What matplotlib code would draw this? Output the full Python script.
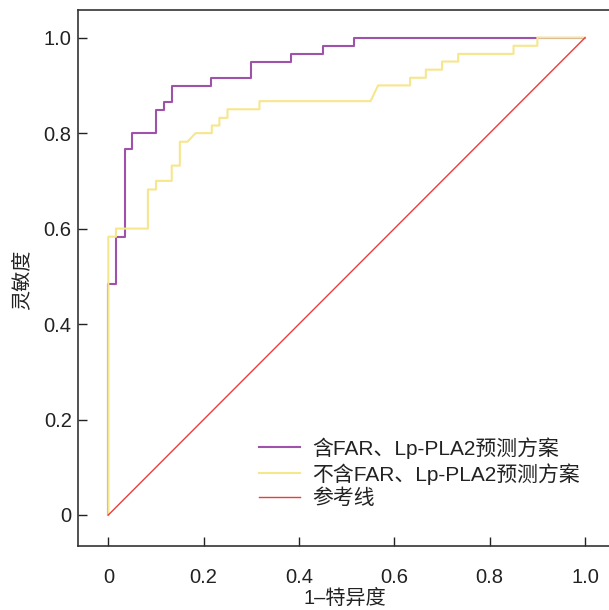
import matplotlib
matplotlib.use("Agg")
import matplotlib.pyplot as plt

plt.rcParams['font.family'] = ['Liberation Sans', 'Noto Sans CJK SC', 'DejaVu Sans']

# ROC data
fpr_with = [0, 0, 0.016, 0.016, 0.034, 0.034, 0.050, 0.050, 0.100, 0.100, 0.117, 0.117,
            0.133, 0.133, 0.216, 0.216, 0.300, 0.300, 0.383, 0.383, 0.450, 0.450,
            0.516, 0.516, 1.0]
tpr_with = [0, 0.483, 0.483, 0.583, 0.583, 0.766, 0.766, 0.800, 0.800, 0.849, 0.849, 0.866,
            0.866, 0.899, 0.899, 0.916, 0.916, 0.950, 0.950, 0.966, 0.966, 0.983,
            0.983, 1.0, 1.0]

fpr_without = [0, 0, 0.016, 0.016, 0.083, 0.083, 0.100, 0.100, 0.133, 0.133, 0.150, 0.150,
               0.166, 0.183, 0.217, 0.217, 0.233, 0.233, 0.250, 0.250, 0.317, 0.317,
               0.550, 0.566, 0.633, 0.633, 0.666, 0.666, 0.700, 0.700, 0.734, 0.734,
               0.850, 0.850, 0.900, 0.900, 1.0]
tpr_without = [0, 0.583, 0.583, 0.600, 0.600, 0.682, 0.682, 0.700, 0.700, 0.732, 0.732, 0.782,
               0.782, 0.800, 0.800, 0.816, 0.816, 0.832, 0.832, 0.850, 0.850, 0.867,
               0.867, 0.900, 0.900, 0.916, 0.916, 0.933, 0.933, 0.950, 0.950, 0.966,
               0.966, 0.983, 0.983, 1.0, 1.0]

ref_x = [0, 1]
ref_y = [0, 1]

labels = ['含FAR、Lp-PLA2预测方案', '不含FAR、Lp-PLA2预测方案', '参考线']
xticks = [0, 0.2, 0.4, 0.6, 0.8, 1.0]
xticklabels = ['0', '0.2', '0.4', '0.6', '0.8', '1.0']
yticks = [0, 0.2, 0.4, 0.6, 0.8, 1.0]
yticklabels = ['0', '0.2', '0.4', '0.6', '0.8', '1.0']

W, H = 609, 610
fig = plt.figure(figsize=(W / 100, H / 100), dpi=100)
left_px, bottom_px, width_px, height_px = 78, 64, 534.7, 536
ax = fig.add_axes([left_px / W, bottom_px / H, width_px / W, height_px / H])

ax.plot(fpr_with, tpr_with, color='#9E52AA', lw=1.5, label=labels[0])
ax.plot(fpr_without, tpr_without, color='#F6E68C', lw=1.5, label=labels[1])
ax.plot(ref_x, ref_y, color='#EE3B3B', lw=1.0, label=labels[2])

ax.set_xlim(-0.0636, 1.058)
ax.set_ylim(-0.065, 1.058)

ax.set_xticks(xticks)
ax.set_xticklabels(xticklabels)
ax.set_yticks(yticks)
ax.set_yticklabels(yticklabels)
ax.tick_params(axis='both', direction='in', length=6.5, width=1.0, labelsize=14.5,
               colors='#222222')
ax.tick_params(axis='x', pad=15.5)
ax.tick_params(axis='y', pad=4.5)

for s in ['left', 'bottom', 'top']:
    ax.spines[s].set_linewidth(1.2)
    ax.spines[s].set_color('#333333')
ax.spines['right'].set_visible(False)

ax.set_xlabel('1–特异度', fontsize=14.5, color='#222222')
ax.set_ylabel('灵敏度', fontsize=14.5, color='#222222')
ax.xaxis.set_label_coords(0.499, -0.098)
ax.yaxis.set_label_coords(-0.105, 0.496)
ax.xaxis.label.set_va('center')
ax.yaxis.label.set_va('center')

leg = ax.legend(loc='center left', bbox_to_anchor=(0.338, 0.1368), frameon=False,
                fontsize=15, handlelength=2.0, handletextpad=0.55, labelspacing=0.2,
                borderpad=0, borderaxespad=0)
for t in leg.get_texts():
    t.set_color('#222222')

fig.savefig('out.png', dpi=100)
